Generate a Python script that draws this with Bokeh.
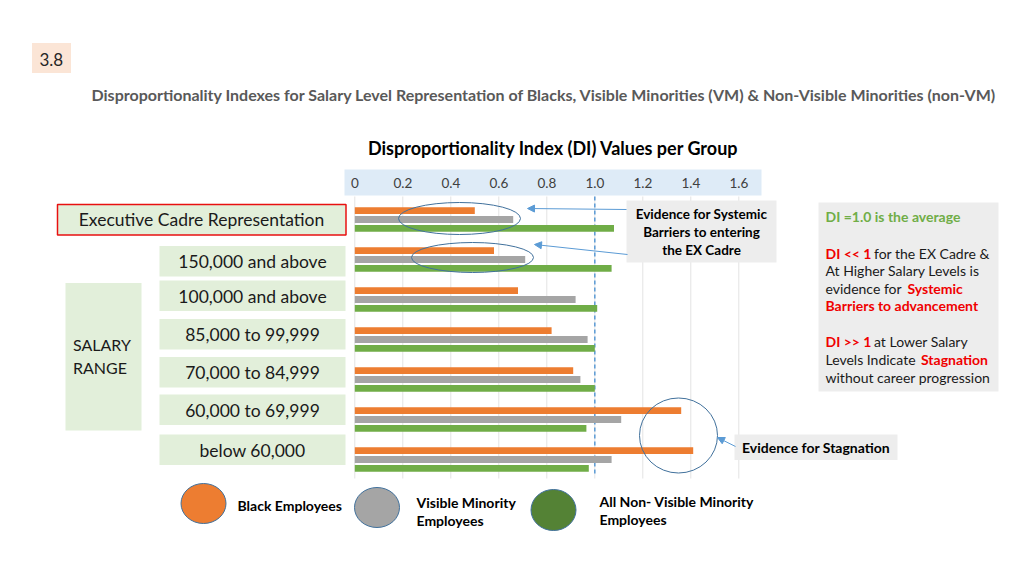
from bokeh.plotting import figure
from bokeh.models import Range1d, ColumnDataSource, Arrow, NormalHead
from bokeh.transform import dodge
from bokeh.core.properties import value
from bokeh.embed import file_html
from bokeh.resources import INLINE

# ---------------- data ----------------
categories = ["Executive Cadre Representation", "150,000 and above", "100,000 and above",
              "85,000 to 99,999", "70,000 to 84,999", "60,000 to 69,999", "below 60,000"]
black_di = [0.50, 0.58, 0.68, 0.82, 0.91, 1.36, 1.41]
vm_di = [0.66, 0.71, 0.92, 0.97, 0.94, 1.11, 1.07]
nonvm_di = [1.08, 1.07, 1.01, 1.00, 1.00, 0.965, 0.975]
ticks = [0, 0.2, 0.4, 0.6, 0.8, 1.0, 1.2, 1.4, 1.6]
tick_labels = ["0", "0.2", "0.4", "0.6", "0.8", "1.0", "1.2", "1.4", "1.6"]
series_names = ["Black Employees", "Visible Minority\nEmployees", "All Non- Visible Minority\nEmployees"]

ORANGE, GREY, GREEN = "#ED7D31", "#A5A5A5", "#70AD47"
RED = "#F00000"
FONT = "Lato"

W, H = 1008, 560
p = figure(width=W, height=H, x_range=Range1d(0, W), y_range=Range1d(H, 0),
           x_axis_type=None, y_axis_type=None, toolbar_location=None,
           output_backend="svg", min_border=0)
p.outline_line_color = None
p.background_fill_color = "white"
p.border_fill_color = "white"

# value scale: DI 0 -> x=354.3, 240 px per unit
x0, ppu = 354.3, 240.0
p.extra_x_ranges["di"] = Range1d((0 - x0) / ppu, (W - x0) / ppu)
# category scale: group k centre at y = 219 + 40 k
p.extra_y_ranges["cat"] = Range1d((H - 219) / 40.0, (0 - 219) / 40.0)


def txt(x, y, s, size=13, color="#000000", bold=False, align="left", font=FONT, **kw):
    p.text(x=[x], y=[y], text=[s], text_font=value(font), text_font_size=f"{size}px",
           text_font_style="bold" if bold else "normal", text_color=color,
           text_align=align, text_baseline="middle", **kw)


# ---------------- header ----------------
p.quad(left=[31.5], right=[70.5], top=[42.5], bottom=[72.5], fill_color="#FBE5D6", line_color=None)
txt(39, 58.5, "3.8", size=17, color="#262626")
txt(91, 93.5, "Disproportionality Indexes for Salary Level Representation of Blacks, Visible Minorities (VM) & Non-Visible Minorities (non-VM)",
    size=16, color="#595959", bold=True)
txt(553, 147, "Disproportionality Index (DI) Values per Group", size=18, bold=True, align="center")

# ---------------- axis band & grid ----------------
p.quad(left=[344], right=[761], top=[169], bottom=[195], fill_color="#DEEBF7", line_color=None)
p.text(x=ticks, y=[182.5] * len(ticks), text=tick_labels, x_range_name="di",
       text_font=value(FONT), text_font_size="13.5px", text_color="#404040",
       text_align="center", text_baseline="middle")
p.segment(x0=ticks, x1=ticks, y0=[196] * len(ticks), y1=[478] * len(ticks), x_range_name="di",
          line_color="#E3E3E3", line_width=1)
p.segment(x0=[1.0], x1=[1.0], y0=[196], y1=[476], x_range_name="di",
          line_color="#5B9BD5", line_width=1.5, line_dash="4 3")

# ---------------- bars ----------------
src = ColumnDataSource(dict(k=list(range(len(categories))), cat=categories,
                            black=black_di, vm=vm_di, nonvm=nonvm_di))
bar_h = 0.17
for col, off, color in (("black", -0.22, ORANGE), ("vm", 0.0, GREY), ("nonvm", 0.22, GREEN)):
    p.hbar(y=dodge("k", off), left=0, right=col, height=bar_h, source=src,
           x_range_name="di", y_range_name="cat", fill_color=color, line_color=None)

# ---------------- category boxes ----------------
LGREEN = "#E2EFDA"
p.quad(left=[57], right=[345.5], top=[204], bottom=[234.5], fill_color=LGREEN,
       line_color="#E81010", line_width=1.5)
txt(201, 219, categories[0], size=17.5, color="#1A1A1A", align="center")
box_tops = [245.5, 280, 318.5, 356.5, 394, 434]
for i, top in enumerate(box_tops):
    p.quad(left=[159], right=[345], top=[top], bottom=[top + 30.5], fill_color=LGREEN, line_color=None)
    txt(252, top + 15.5, categories[i + 1], size=17.5, color="#1A1A1A", align="center")
p.quad(left=[65], right=[141], top=[282.5], bottom=[430], fill_color=LGREEN, line_color=None)
txt(72.5, 344, "SALARY", size=16, color="#1A1A1A")
txt(72.5, 367, "RANGE", size=16, color="#1A1A1A")

# ---------------- callouts ----------------
ELL = "#41719C"
p.ellipse(x=[459, 472], y=[218, 257], width=[122, 122], height=[32, 30],
          fill_color=None, line_color=ELL, line_width=1)
p.ellipse(x=[678], y=[435], width=[78], height=[75], fill_color=None, line_color=ELL, line_width=1)

p.quad(left=[626], right=[776], top=[200], bottom=[262], fill_color="#EDEDED", line_color=None)
for j, s in enumerate(["Evidence for Systemic", "Barriers to entering", "the EX Cadre"]):
    txt(701, 213 + 18 * j, s, size=13.5, bold=True, align="center")
ARR = "#5B9BD5"
for xs, ys, xe, ye in ((626, 209, 527, 208), (627, 254, 534, 244), (735, 446, 717, 437)):
    p.add_layout(Arrow(end=NormalHead(size=7, fill_color=ARR, line_color=ARR),
                       x_start=xs, y_start=ys, x_end=xe, y_end=ye, line_color=ARR, line_width=1))

p.quad(left=[734], right=[897], top=[434], bottom=[459.5], fill_color="#EDEDED", line_color=None)
txt(815.5, 447, "Evidence for Stagnation", size=14, bold=True, align="center")

# right-hand explanation box
p.quad(left=[818], right=[998], top=[202], bottom=[391], fill_color="#EDEDED", line_color=None)
FS = 14
txt(825, 216, "DI =1.0 is the average", size=FS, color=GREEN, bold=True)
txt(825, 252.5, "DI << 1", size=FS, color=RED, bold=True)
txt(873.5, 252.5, "for the EX Cadre &", size=FS, color="#1A1A1A")
txt(825, 270, "At Higher Salary Levels is", size=FS, color="#1A1A1A")
txt(825, 287.5, "evidence for", size=FS, color="#1A1A1A")
txt(907, 287.5, "Systemic", size=FS, color=RED, bold=True)
txt(825, 305, "Barriers to advancement", size=FS, color=RED, bold=True)
txt(825, 341, "DI >> 1", size=FS, color=RED, bold=True)
txt(873.5, 341, "at Lower Salary", size=FS, color="#1A1A1A")
txt(825, 359, "Levels Indicate", size=FS, color="#1A1A1A")
txt(920.5, 359, "Stagnation", size=FS, color=RED, bold=True)
txt(825, 377, "without career progression", size=FS, color="#1A1A1A")

# ---------------- legend ----------------
p.ellipse(x=[203, 376.5, 553], y=[503, 507, 509.5], width=[45, 45, 45], height=[40, 40, 41],
          fill_color=[ORANGE, GREY, "#548235"], line_color=ELL, line_width=1)
txt(237, 505, series_names[0], size=14, bold=True)
l1, l2 = series_names[1].split("\n")
txt(416, 501.5, l1, size=14, bold=True)
txt(416, 519.5, l2, size=14, bold=True)
l1, l2 = series_names[2].split("\n")
txt(599, 500.5, l1, size=14, bold=True)
txt(599, 518.5, l2, size=14, bold=True)

open("out.html", "w").write(file_html(p, INLINE))
